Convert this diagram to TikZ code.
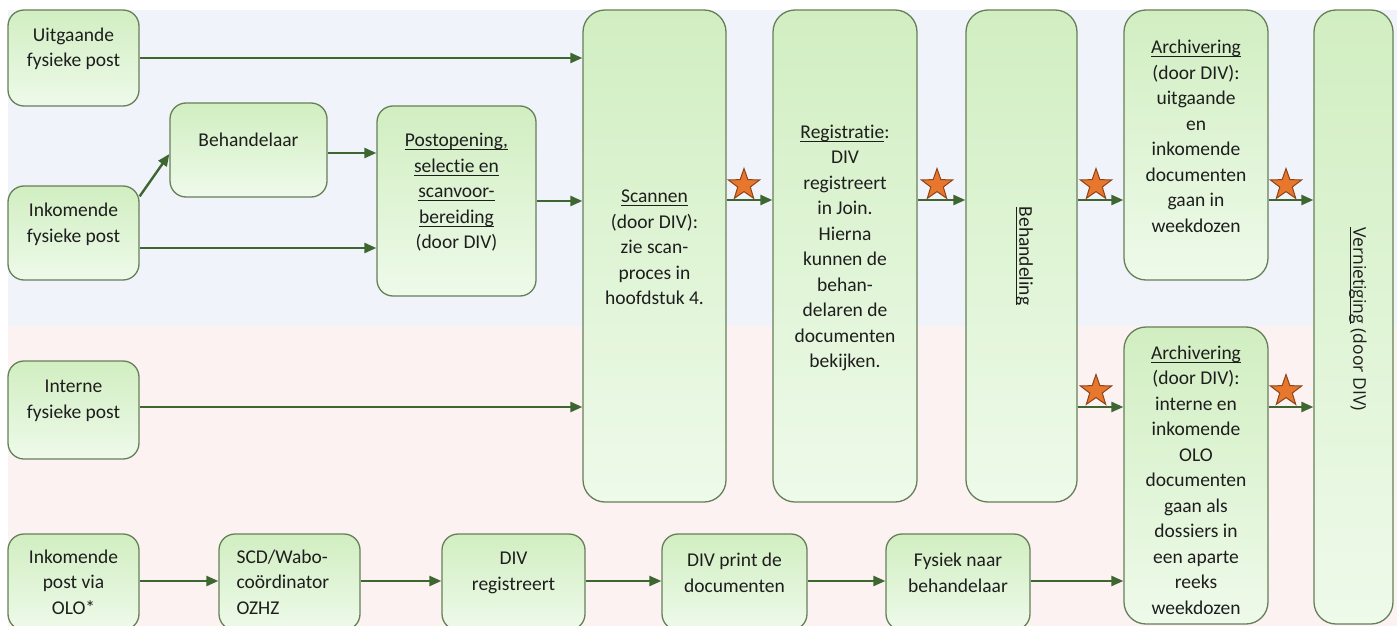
\documentclass[tikz,border=0pt]{standalone}
\usepackage{fontspec}
\setmainfont{Carlito}[Ligatures=NoCommon]
\newfontfamily\vfont{Open Sans}
\newcommand{\ulx}[1]{\leavevmode\setbox0\hbox{#1}\rlap{\rule[-3.3pt]{\wd0}{1pt}}\box0}
\usetikzlibrary{shapes.geometric,arrows.meta,calc}
\definecolor{gtop}{HTML}{D1EEC1}
\definecolor{gbot}{HTML}{EEFAEA}
\definecolor{boxline}{HTML}{667F58}
\definecolor{arrowc}{HTML}{3E6630}
\definecolor{starfill}{HTML}{E8772E}
\definecolor{starline}{HTML}{8E4318}
\definecolor{bgblue}{HTML}{F0F4FA}
\definecolor{bgpink}{HTML}{FDF2F2}
\definecolor{txtc}{HTML}{1E1E1E}
\tikzset{
  box/.style={draw=boxline, line width=1.3pt, rounded corners=16pt, top color=gtop, bottom color=gbot, inner sep=0pt},
  tallbox/.style={box, rounded corners=22pt},
  txt/.style={text=txtc, align=center, inner sep=0pt, font=\fontsize{19.5}{25.5}\selectfont},
  vtxt/.style={text=txtc, inner sep=0pt, rotate=-90, font=\vfont\fontsize{17.5}{20}\selectfont},
  arr/.style={draw=arrowc, line width=2.4pt, -{Triangle[length=12pt,width=10pt]}},
  starn/.style={star, star points=5, star point ratio=2.5, minimum size=33pt, inner sep=0pt, fill=starfill, draw=starline, line width=1pt}
}
\begin{document}
\begin{tikzpicture}[x=1pt,y=-1pt]
\useasboundingbox (0,0) rectangle (1397,626);
\clip (0,0) rectangle (1397,626);
\fill[bgblue] (8,10) rectangle (1397,326);
\fill[bgpink] (8,326) rectangle (1397,626);
% rows
\coordinate (rowA) at (0,200);
\coordinate (rowB) at (0,407);
\coordinate (rowC) at (0,581);
% boxes
\node[box, minimum width=131pt, minimum height=96pt] (uit) at (73.5,58) {};
\node[box, minimum width=131pt, minimum height=94pt] (ink) at (73.5,233) {};
\node[box, minimum width=157pt, minimum height=94pt] (beh) at (248.5,150) {};
\node[box, minimum width=159pt, minimum height=190pt] (post) at (456.5,201) {};
\node[tallbox, minimum width=143pt, minimum height=492pt] (scan) at (654.5,256) {};
\node[tallbox, minimum width=144pt, minimum height=492pt] (reg) at (845,256) {};
\node[tallbox, minimum width=111pt, minimum height=492pt] (behd) at (1021.5,256) {};
\node[tallbox, minimum width=144pt, minimum height=270pt] (arch1) at (1196,145) {};
\node[tallbox, minimum width=79pt, minimum height=614pt] (vern) at (1353.5,317) {};
\node[box, minimum width=131pt, minimum height=98pt] (intern) at (73.5,410) {};
\node[box, minimum width=131pt, minimum height=96pt] (olo) at (73.5,582) {};
\node[box, minimum width=141pt, minimum height=96pt] (scd) at (289.5,582) {};
\node[box, minimum width=143pt, minimum height=96pt] (divreg) at (513.5,582) {};
\node[box, minimum width=145pt, minimum height=96pt] (divprint) at (734.5,582) {};
\node[box, minimum width=144pt, minimum height=96pt] (fys) at (958,582) {};
\node[tallbox, minimum width=144pt, minimum height=297pt] (arch2) at (1196,475.5) {};
% texts
\node[txt] (tuit) at ([yshift=9pt]uit.center) {Uitgaande\\fysieke post};
\node[txt] (tink) at ([yshift=8.5pt]ink.center) {Inkomende\\fysieke post};
\node[txt] (tbeh) at ([yshift=10pt]beh.center) {Behandelaar};
\node[txt] (tpost) at ([yshift=8.5pt]post.center) {\ulx{Postopening,}\\\ulx{selectie en}\\\ulx{scanvoor-}\\\ulx{bereiding}\\(door DIV)};
\node[txt] (tscan) at ([yshift=8.5pt]scan.center) {\ulx{Scannen}\\(door DIV):\\zie scan-\\proces in\\hoofdstuk 4.};
\node[txt] (treg) at ([yshift=8pt]reg.center) {\ulx{Registratie}:\\DIV\\registreert\\in Join.\\Hierna\\kunnen de\\behan-\\delaren de\\documenten\\bekijken.};
\node[txt, rotate=-90] (tbehd) at ([xshift=3pt]behd.center) {\ulx{Behandeling}};
\node[txt] (tarch1) at ([yshift=8.5pt]arch1.center) {\ulx{Archivering}\\(door DIV):\\uitgaande\\en\\inkomende\\documenten\\gaan in\\weekdozen};
\node[vtxt] (tvern) at ([xshift=4.5pt,yshift=-2pt]vern.center) {\ulx{Vernietiging}\ (door DIV)};
\node[txt] (tintern) at ([yshift=9pt]intern.center) {Interne\\fysieke post};
\node[txt] (tolo) at ([yshift=0pt]olo.center) {Inkomende\\post via\\OLO*};
\node[txt, align=left, anchor=west] (tscd) at ([xshift=18pt]scd.west) {SCD/Wabo-\\coördinator\\OZHZ};
\node[txt] (tdivreg) at ([yshift=9pt]divreg.center) {DIV\\registreert};
\node[txt] (tdivprint) at ([yshift=9pt]divprint.center) {DIV print de\\documenten};
\node[txt] (tfys) at ([yshift=9pt]fys.center) {Fysiek naar\\behandelaar};
\node[txt] (tarch2) at ([yshift=-4.5pt]arch2.center) {\ulx{Archivering}\\(door DIV):\\interne en\\inkomende\\OLO\\documenten\\gaan als\\dossiers in\\een aparte\\reeks\\weekdozen};
% connectors
\draw[arr] (uit.east) -- (uit.east -| scan.west);
\draw[arr] ([yshift=-11pt]ink.north east) -- ([yshift=-4pt]beh.west);
\draw[arr] ([yshift=-3pt]beh.east) -- ([yshift=-3pt]beh.east -| post.west);
\draw[arr] ([yshift=-15pt]ink.east) -- ([yshift=-15pt]ink.east -| post.west);
\draw[arr] (post.east) -- (post.east -| scan.west);
\draw[arr] (intern.east |- rowB) -- (scan.west |- rowB);
\draw[arr] (scan.east |- rowA) -- (reg.west |- rowA);
\draw[arr] (reg.east |- rowA) -- (behd.west |- rowA);
\draw[arr] (behd.east |- rowA) -- (arch1.west |- rowA);
\draw[arr] (arch1.east |- rowA) -- (vern.west |- rowA);
\draw[arr] (behd.east |- rowB) -- (arch2.west |- rowB);
\draw[arr] (arch2.east |- rowB) -- (vern.west |- rowB);
\draw[arr] (olo.east |- rowC) -- (scd.west |- rowC);
\draw[arr] (scd.east |- rowC) -- (divreg.west |- rowC);
\draw[arr] (divreg.east |- rowC) -- (divprint.west |- rowC);
\draw[arr] (divprint.east |- rowC) -- (fys.west |- rowC);
\draw[arr] (fys.east |- rowC) -- (arch2.west |- rowC);
% stars
\node[starn] (s1) at (744,185) {};
\node[starn] (s2) at (937,185) {};
\node[starn] (s3) at (1096,185) {};
\node[starn] (s4) at (1286,185) {};
\node[starn] (s5) at (1096,391) {};
\node[starn] (s6) at (1286,391) {};
\end{tikzpicture}
\end{document}
